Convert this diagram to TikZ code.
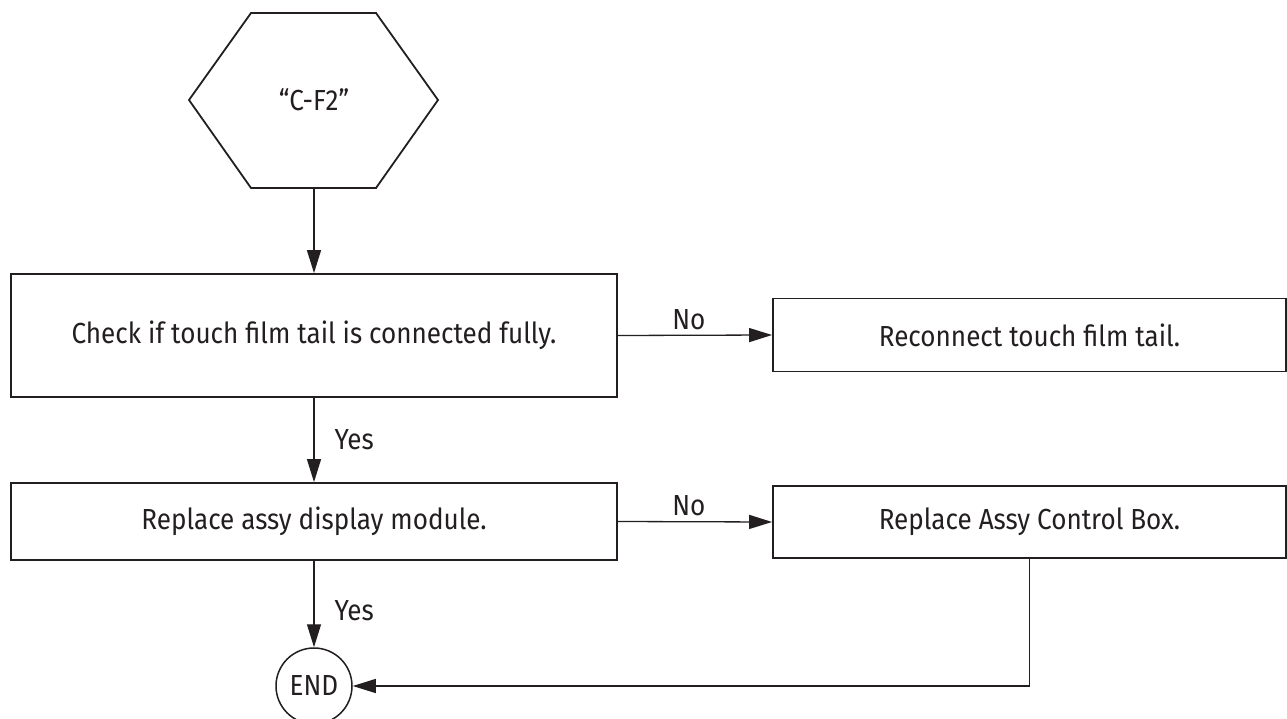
\documentclass[tikz,border=0pt]{standalone}
\usepackage{fontspec}
\setmainfont[FakeStretch=0.9]{Fira Sans}
\usepackage{xcolor}
\usetikzlibrary{arrows.meta}
\definecolor{ink}{HTML}{231F20}

\begin{document}
\begin{tikzpicture}[x=1pt, y=-1pt, font=\fontsize{29}{34}\selectfont, ink,
  stepbox/.style={draw, line width=1.8pt, minimum width=606pt, inner sep=0pt},
  fixbox/.style={draw, line width=1.8pt, minimum width=513pt, inner sep=0pt},
  endcircle/.style={draw, circle, line width=1.5pt, minimum size=76pt, inner sep=0pt},
  link/.style={line width=1.3pt, -{Triangle[length=23pt, width=14pt]}},
  lbl/.style={inner sep=0pt}]
  \clip (0,0) rectangle (1287,719);
  \draw[line width=1.8pt, line join=miter] (189,100) -- (251,13) -- (376,13) -- (438,100) -- (376,188) -- (251,188) -- cycle;
  \node (hex) at (314,100) {“C-F2”};
  \coordinate (hexbot) at (314,188);
  \node[stepbox, minimum height=123pt] (check) at (314,335.5) {Check if touch film tail is connected fully.};
  \node[fixbox, minimum height=73pt] (reconnect) at (1029.5,335) {Reconnect touch film tail.};
  \node[stepbox, minimum height=77pt] (display) at (314,521.5) {Replace assy display module.};
  \node[fixbox, minimum height=72pt] (ctrlbox) at (1029.5,522) {Replace Assy Control Box.};
  \node[endcircle] (end) at (314,686) {END};
  \draw[link] (hexbot) -- (check);
  \draw[link] (check.east) -- node[lbl, above=5pt, pos=0.46] {No} (reconnect.west);
  \draw[link] (check) -- node[lbl, right=20pt] {Yes} (display);
  \draw[link] (display.east) -- node[lbl, above=5pt, pos=0.46] {No} (ctrlbox.west);
  \draw[link] (display) -- node[lbl, right=20pt, pos=0.58] {Yes} (end);
  \draw[link] (ctrlbox.south) |- (end);
\end{tikzpicture}
\end{document}
